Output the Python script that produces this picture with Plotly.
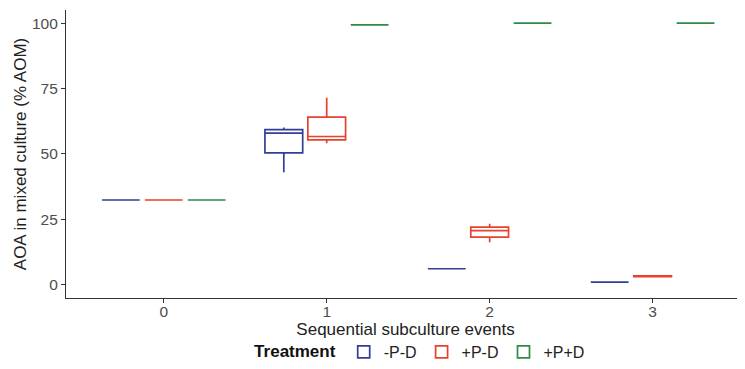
import plotly.graph_objects as go

categories = ["0", "1", "2", "3"]
treatments = ["-P-D", "+P-D", "+P+D"]
colors = ["#323F96", "#E8412C", "#2E8B45"]

# precomputed box statistics per treatment: lowerfence, q1, median, q3, upperfence
blue_lf = [32.3, 42.9, 6.0, 0.9]
blue_q1 = [32.3, 50.3, 6.0, 0.9]
blue_med = [32.3, 57.9, 6.0, 0.9]
blue_q3 = [32.3, 59.2, 6.0, 0.9]
blue_uf = [32.3, 60.0, 6.0, 0.9]

red_lf = [32.3, 54.0, 16.1, 2.7]
red_q1 = [32.3, 55.3, 18.1, 3.0]
red_med = [32.3, 56.6, 20.6, 3.2]
red_q3 = [32.3, 64.0, 21.9, 3.3]
red_uf = [32.3, 71.4, 23.2, 3.3]

green_lf = [32.3, 99.3, 100.0, 100.0]
green_q1 = [32.3, 99.3, 100.0, 100.0]
green_med = [32.3, 99.3, 100.0, 100.0]
green_q3 = [32.3, 99.3, 100.0, 100.0]
green_uf = [32.3, 99.3, 100.0, 100.0]

stats = [
    (blue_lf, blue_q1, blue_med, blue_q3, blue_uf),
    (red_lf, red_q1, red_med, red_q3, red_uf),
    (green_lf, green_q1, green_med, green_q3, green_uf),
]

fig = go.Figure()
for name, col, (lf, q1, med, q3, uf) in zip(treatments, colors, stats):
    fig.add_trace(go.Box(
        x=categories, name=name,
        lowerfence=lf, q1=q1, median=med, q3=q3, upperfence=uf,
        line=dict(color=col, width=1.7),
        fillcolor="white",
        boxpoints=False,
        whiskerwidth=0,
    ))

fig.update_layout(
    width=737, height=361,
    margin=dict(l=58, r=0, t=2, b=71, autoexpand=False),
    plot_bgcolor="white", paper_bgcolor="white",
    boxmode="group", boxgap=0.21, boxgroupgap=0.12,
    font=dict(family="Liberation Sans, Arial, sans-serif", size=15, color="#333333"),
    xaxis=dict(
        type="category", range=[-0.6, 3.567], automargin=False,
        showline=True, linecolor="#333333", linewidth=1.2,
        ticks="outside", ticklen=4, tickcolor="#333333",
        tickfont=dict(size=15.5, color="#4d4d4d"),
        ticklabelstandoff=-5,
        title=dict(text="Sequential subculture events", font=dict(size=17, color="#222222"), standoff=0),
        showgrid=False, zeroline=False,
    ),
    yaxis=dict(
        range=[-5.2, 105], automargin=False,
        tickvals=[0, 25, 50, 75, 100],
        showline=True, linecolor="#333333", linewidth=1.2,
        ticks="outside", ticklen=4, tickcolor="#333333",
        tickfont=dict(size=15.5, color="#4d4d4d"),
        ticklabelstandoff=0,
        title=dict(text="AOA in mixed culture (% AOM)", font=dict(size=17, color="#222222"), standoff=0),
        showgrid=False, zeroline=False,
    ),
    legend=dict(
        orientation="h", x=0.523, xanchor="center", y=-0.1875, yanchor="middle",
        title=dict(text="<b>Treatment</b>", font=dict(size=17, color="#111111")),
        font=dict(size=16, color="#222222"),
        itemwidth=30,
    ),
)

fig.write_html("out.html")
